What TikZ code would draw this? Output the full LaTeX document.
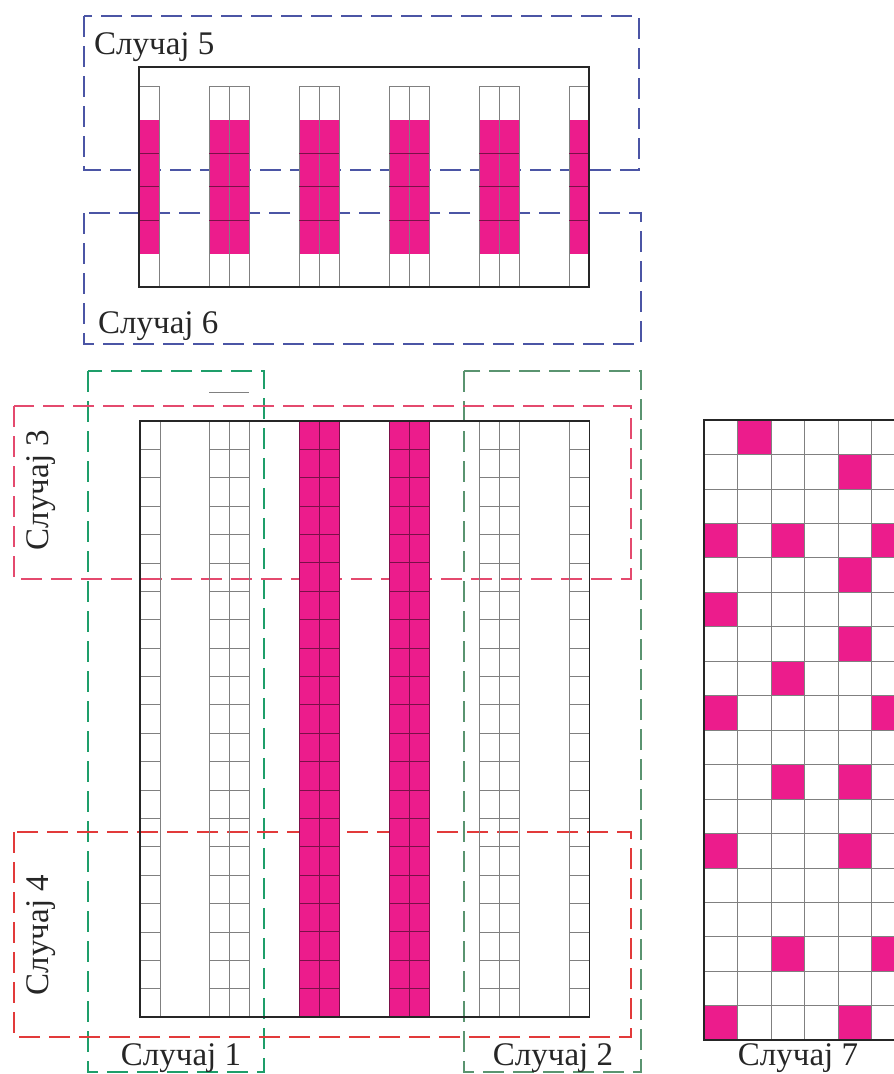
\documentclass[tikz,border=0pt]{standalone}
\usepackage{fontspec}
\setmainfont{Liberation Serif}
\usetikzlibrary{positioning}

\definecolor{casepink}{HTML}{EC1C8C}
\definecolor{caseblue}{HTML}{4B55A5}
\definecolor{casegreen}{HTML}{1E9E6A}
\definecolor{casegreygreen}{HTML}{5A9470}
\definecolor{caserose}{HTML}{E44A6E}
\definecolor{casered}{HTML}{E23A3A}
\definecolor{pinkdark}{HTML}{7A1048}

\tikzset{
  casebox/.style={line width=1.8pt, dash pattern=on 21pt off 9pt},
  cellline/.style={draw=black!50, line width=0.7pt},
  pinkline/.style={draw=pinkdark, line width=0.9pt},
  frameline/.style={draw=black!85, line width=1.5pt},
  caselabel/.style={font=\fontsize{33}{36}\selectfont, inner sep=0pt, text=black!85}
}

\begin{document}
\begin{tikzpicture}[x=1pt, y=-1pt, line cap=butt, line join=miter]

  \useasboundingbox (0,0) rectangle (894,1074);

  % Dashed case boxes
  \draw[casebox, caseblue] (84,16) rectangle (639,170);
  \draw[casebox, caseblue] (84,213) rectangle (641,344);
  \draw[casebox, casegreen] (88,371) rectangle (264,1072);
  \draw[casebox, casegreygreen] (464,371) rectangle (641,1072);
  \draw[casebox, caserose] (14,406) rectangle (631,579);
  \draw[casebox, casered] (14,832) rectangle (631,1037);

  % Strip for cases 5 and 6: 6 rows, middle 4 pink
  \def\cw{20}
  \def\rh{33.5}
  \foreach \x in {139,209,229,299,319,389,409,479,499,569} {
    \fill[casepink] (\x,119.5) rectangle ++(\cw,134);
    \draw[cellline] (\x,86) rectangle ++(\cw,201);
    \foreach \k in {2,3,4}
      \draw[pinkline] (\x,86+\k*\rh) -- ++(\cw,0);
  }
  \draw[frameline] (139,67) rectangle (589,287);

  % Tall grid for cases 1 to 4: 21 rows
  \def\N{21}
  \pgfmathsetmacro\th{(1017-421)/\N}
  \foreach \x in {299,319,389,409}
    \fill[casepink] (\x,421) rectangle ++(\cw,596);
  \foreach \x in {140,209,229,479,499,569} {
    \draw[cellline] (\x,421) rectangle ++(\cw,596);
    \foreach \k in {1,...,20}
      \draw[cellline] (\x,421+\k*\th) -- ++(\cw,0);
  }
  \foreach \x in {299,319,389,409} {
    \draw[pinkline] (\x,421) rectangle ++(\cw,596);
    \foreach \k in {1,...,20}
      \draw[pinkline] (\x,421+\k*\th) -- ++(\cw,0);
  }
  \draw[frameline] (140,421) rectangle (589.5,1017);
  \draw[line width=2.2pt, black!85] (140,421) -- (140,1017);
  \draw[cellline] (209,392) -- (249,392);

  % Grid for case 7, cut at the right edge
  \begin{scope}
    \clip (0,0) rectangle (894,1074);
    \def\gw{33.5}
    \def\gh{34.45}
    \foreach \c/\r in {2/1,5/2,1/4,3/4,6/4,5/5,1/6,5/7,3/8,1/9,6/9,3/11,5/11,1/13,5/13,3/16,6/16,1/18,5/18}
      \fill[casepink] (704+\c*\gw-\gw,420+\r*\gh-\gh) rectangle ++(\gw,\gh);
    \foreach \c in {1,...,6}
      \draw[cellline] (704+\c*\gw,420) -- ++(0,620.1);
    \foreach \r in {1,...,17}
      \draw[cellline] (704,420+\r*\gh) -- ++(210,0);
    \draw[frameline] (914,420) -- (704,420) -- (704,1040.1) -- (914,1040.1);
  \end{scope}

  % Labels
  \node[caselabel, anchor=west] (lblfive) at (94,47) {Случај 5};
  \node[caselabel, anchor=west] (lblsix) at (98,326) {Случај 6};
  \node[caselabel, rotate=90] (lblthree) at (41,490) {Случај 3};
  \node[caselabel, rotate=90] (lblfour) at (41,935) {Случај 4};
  \node[caselabel] (lblone) at (181,1058) {Случај 1};
  \node[caselabel] (lbltwo) at (553,1058) {Случај 2};
  \node[caselabel] (lblseven) at (798,1058) {Случај 7};

\end{tikzpicture}
\end{document}
